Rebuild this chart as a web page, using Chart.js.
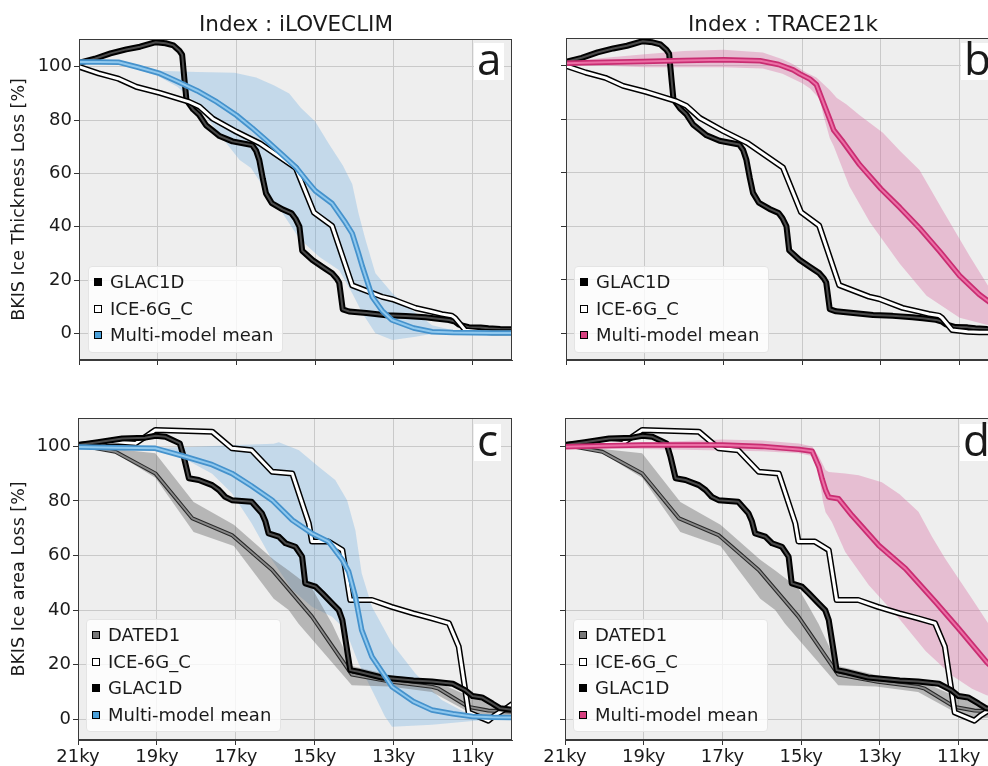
<!DOCTYPE html>
<html>
<head>
<meta charset="utf-8">
<script src="https://cdn.jsdelivr.net/npm/chart.js@4.4.1/dist/chart.umd.min.js"></script>
<style>
  html, body { margin: 0; padding: 0; background: #fff; }
  #fig { position: relative; width: 988px; height: 766px; overflow: hidden; font-family: "DejaVu Sans", sans-serif; color: #1a1a1a; }
  #fig canvas { position: absolute; }
  .title { position: absolute; top: 11px; font-size: 21.5px; line-height: 25px; transform: translateX(-50%); white-space: nowrap; }
  .letter { position: absolute; background: #fff; font-family: "Open Sans", sans-serif; font-size: 44px; height: 37px; line-height: 30px; padding: 0 3px; }
  .legend { position: absolute; background: rgba(255,255,255,0.8); border: 1px solid #e4e4e4; border-radius: 4px; font-size: 18px; box-sizing: border-box; padding-top: 2px; }
  .legend .row { height: 26.5px; line-height: 26.5px; white-space: nowrap; position: relative; padding-left: 21px; }
  .legend .sw { position: absolute; left: 5px; top: 9px; width: 6px; height: 6px; border: 1px solid #000; }
</style>
</head>
<body>
<div id="fig">
  <canvas id="pa" width="530" height="380" style="left:0;top:0"></canvas>
  <canvas id="pb" width="530" height="380" style="left:487px;top:0"></canvas>
  <canvas id="pc" width="530" height="386" style="left:0;top:380px"></canvas>
  <canvas id="pd" width="530" height="386" style="left:486px;top:380px"></canvas>
  <div class="title" style="left:296px">Index : iLOVECLIM</div>
  <div class="title" style="left:783px">Index : TRACE21k</div>
  <div class="letter" style="left:474px;top:43px">a</div>
  <div class="letter" style="left:961px;top:43px">b</div>
  <div class="letter" style="left:474px;top:424px">c</div>
  <div class="letter" style="left:960px;top:424px">d</div>
</div>
<script>
// axis ticks
const kyTicks = [21, 19, 17, 15, 13, 11];
const pctTicks = [0, 20, 40, 60, 80, 100];

// ---- ice thickness (panels a, b) ----
const glacThickKy  = [21, 20.6, 20.2, 19.8, 19.45, 19.05, 18.8, 18.6, 18.45, 18.38, 18.32, 18.27, 18.1, 17.95, 17.77, 17.6, 17.43, 17.1, 16.6, 16.5, 16.42, 16.33, 16.25, 16.1, 15.83, 15.6, 15.5, 15.4, 15.33, 15.07, 14.82, 14.57, 14.45, 14.39, 14.3, 14.14, 13.7, 13.2, 12.7, 12.2, 11.94, 11.6, 11.45, 11.35, 11.1, 10.8, 10.6, 10.3, 10];
const glacThickPct = [101.5, 103, 105, 106.5, 107.5, 109.2, 108.8, 108, 106, 104.5, 95, 87.5, 84, 82, 78, 76, 74, 72, 70.6, 68.5, 65, 58, 52.5, 48.8, 46.5, 45, 43, 40, 31, 27.5, 25, 22.5, 20.5, 19, 9, 8.2, 7.6, 6.8, 6.5, 6, 5.6, 5, 4.4, 3.3, 2.3, 2.2, 1.9, 1.6, 1.5];

const iceThickKy  = [21, 20.5, 20.0, 19.55, 18.95, 18.2, 17.94, 17.6, 17.0, 16.4, 15.49, 15.03, 14.57, 14.06, 13.3, 13.04, 12.45, 12.03, 11.78, 11.53, 11.45, 11.19, 10.8, 10.5, 10];
const iceThickPct = [100, 97.5, 95.5, 92.5, 90.2, 86.8, 85, 80.5, 75.6, 71.2, 62, 45.3, 40.3, 18, 13.7, 12.8, 9.5, 8.1, 7.2, 6.6, 5.8, 1.2, 0.6, 0.4, 0.4];

const ilcThickKy  = [21, 20.5, 20.0, 19.5, 18.95, 18.5, 18, 17.5, 17.0, 16.6, 16.25, 15.8, 15.49, 15.2, 15.0, 14.57, 14.23, 14.06, 13.9, 13.8, 13.55, 13.3, 13.05, 12.5, 12.03, 11.5, 11, 10.5, 10];
const ilcThickPct = [101.8, 101.8, 101.7, 99.8, 97.5, 94.5, 91, 86.8, 81.8, 77, 72.5, 66.5, 62.3, 57, 53.5, 48.7, 41.5, 37.5, 30, 25, 13.7, 8.5, 5, 2, 0.6, 0.3, 0.2, 0.1, 0.1];
const ilcThickHiKy  = [21, 20, 19.5, 19.0, 18.0, 17.05, 16.5, 16.04, 15.66, 15.36, 15.0, 14.65, 14.3, 14.06, 13.9, 13.72, 13.47, 13.04, 12.6, 12.03, 11.45, 11, 10];
const ilcThickHiPct = [102, 102.2, 100.5, 98.5, 98, 97.7, 96, 93, 90, 84.5, 79.5, 71, 63, 56, 45, 35, 22.5, 15, 9.4, 3, 1, 0.8, 0.5];
const ilcThickLoKy  = [21, 20, 19.5, 19.0, 18.5, 18.0, 17.47, 16.92, 16.63, 16.25, 15.83, 15.4, 14.9, 14.39, 14.06, 13.8, 13.47, 13.04, 12.45, 12.03, 11, 10];
const ilcThickLoPct = [101.5, 101.2, 99, 96.5, 92.5, 86, 75.3, 65, 62, 53.5, 45, 35.5, 28.7, 23.7, 15, 7.5, 0, -2.5, -1.3, -0.2, 0, 0];

const trcThickKy  = [21, 20, 19.04, 18, 17.0, 16.07, 15.6, 15.23, 15.06, 14.8, 14.64, 14.47, 14.3, 14.2, 13.96, 13.54, 13.0, 12.52, 12.0, 11.5, 11.0, 10.5, 10];
const trcThickPct = [101, 101.3, 101.6, 102, 102.3, 101.9, 100.5, 98.5, 97, 95, 93, 86.5, 80, 76, 71.5, 63, 54, 47, 39, 30.5, 21.5, 14.5, 9];
const trcThickHiKy  = [21, 20, 19, 18, 17, 16, 15.5, 15.23, 14.9, 14.64, 14.3, 14.12, 13.88, 13.54, 12.95, 12.5, 12.02, 11.43, 10.75, 10.29, 10];
const trcThickHiPct = [101.5, 103, 104.3, 105.5, 106, 105, 102.5, 100.6, 97.5, 95.6, 91, 88, 85.6, 81.5, 75, 68, 61, 46, 29, 18, 12];
const trcThickLoKy  = [21, 20, 19, 18, 17, 16, 15.5, 15.0, 14.8, 14.55, 14.47, 14.3, 14.2, 13.88, 13.8, 13.28, 12.52, 11.84, 11.0, 10.29, 10];
const trcThickLoPct = [100.5, 100, 99.5, 99.5, 99.5, 99, 97, 93.5, 91.5, 87.5, 82, 73, 70, 58, 55, 41.5, 26, 14, 5.8, 3.1, 2.5];

// ---- ice area (panels c, d) ----
const glacAreaKy  = [21, 20.5, 19.88, 19.3, 19.03, 18.78, 18.42, 18.32, 18.19, 17.94, 17.6, 17.43, 17.27, 17.1, 16.6, 16.34, 16.25, 16.17, 15.91, 15.74, 15.49, 15.32, 15.24, 14.98, 14.81, 14.56, 14.39, 14.3, 14.18, 14.1, 13.89, 13.3, 12.5, 12.03, 11.5, 11.19, 11.0, 10.76, 10.5, 10.3, 10];
const glacAreaPct = [100.5, 101.5, 102.9, 103.2, 103.9, 103.5, 101.1, 96.2, 88.3, 87.7, 85.8, 84, 81.5, 80.3, 79.7, 75.5, 72.5, 68.1, 66.9, 64.5, 63.2, 59.6, 49.8, 48.6, 46.2, 42.5, 40, 36.4, 25.4, 18, 17.4, 15.3, 14.2, 13.8, 13, 10.7, 8.5, 8, 5.8, 4, 3.5];

const iceAreaKy  = [21, 20.05, 19.54, 19.04, 17.6, 17.1, 16.6, 16.08, 15.57, 15.15, 15.07, 14.65, 14.3, 14.1, 13.55, 13.05, 12.5, 12.03, 11.6, 11.35, 11.1, 10.6, 10.43, 10.1, 10];
const iceAreaPct = [100.5, 101.7, 101.1, 106, 105.4, 99.3, 98.6, 90.7, 90.1, 71.8, 65.1, 65.1, 62, 43.7, 43.7, 41.2, 38.8, 37, 35.2, 26.6, 2.5, -0.5, 1.5, 4.5, 5.5];

const datedAreaKy  = [21, 20.05, 19.04, 18.1, 17.1, 16.08, 15.07, 14.06, 13.05, 12.03, 11.86, 11.1, 10.6, 10];
const datedAreaPct = [100.5, 98, 90.1, 73.6, 67.5, 54.7, 37.6, 16.4, 13.7, 11.9, 11.2, 4.5, 3.2, 2.8];
const datedHiKy  = [21, 20.05, 19.04, 18.07, 17.05, 16.04, 15.66, 15.07, 14.56, 14.06, 13.05, 12.03, 11.1, 10.43, 10];
const datedHiPct = [100.8, 99, 97.5, 79.6, 71.3, 58.5, 54.5, 48, 35, 19.5, 16, 14.5, 8.5, 5, 3.5];
const datedLoKy  = [21, 20.05, 19.04, 18.07, 17.05, 16.04, 15.66, 15.41, 14.06, 13.1, 12.03, 11.1, 10.6, 10];
const datedLoPct = [100.2, 97.5, 88.5, 68.6, 63.5, 44.2, 40, 35, 12.5, 12, 10, 2.7, 0, 1];

const ilcAreaKy  = [21, 20, 19.04, 18.27, 17.6, 17.1, 16.6, 16.08, 15.57, 15.07, 14.65, 14.3, 14.14, 13.97, 13.81, 13.55, 13.04, 12.5, 12.03, 11.5, 11.0, 10.5, 10];
const ilcAreaPct = [99.8, 99.5, 99.3, 96.2, 93.3, 90.1, 85.5, 80.3, 73, 68.1, 65.1, 58.4, 54.1, 44.9, 32.7, 22.9, 11.9, 6.5, 3.4, 2, 1, 0.7, 0.6];
const ilcAreaHiKy  = [21, 20, 19.04, 18.32, 17, 16.04, 15.91, 15.4, 14.9, 14.48, 14.18, 13.97, 13.81, 13.55, 13.04, 12.45, 11.78, 11.1, 10.5, 10];
const ilcAreaHiPct = [100, 99.8, 99.6, 99.7, 100.5, 101, 101.5, 98.6, 92.5, 87.7, 80.3, 69.3, 53.5, 41.2, 27.8, 16.8, 7.1, 1.8, 1, 0.8];
const ilcAreaLoKy  = [21, 20, 19.04, 18.3, 17.6, 17.1, 16.6, 16.08, 15.57, 15.07, 14.56, 14.22, 13.89, 13.55, 13.22, 13.04, 12.03, 11.0, 10];
const ilcAreaLoPct = [99.7, 99.2, 99, 95.5, 90, 82.8, 71.8, 58.4, 47.4, 41.2, 37.6, 32.7, 20.5, 10.7, 1, -2.7, -2, -0.6, 0.3];

const trcAreaKy  = [21, 20, 19.04, 18, 17.0, 16, 15.06, 14.72, 14.55, 14.47, 14.38, 14.3, 14.05, 13.71, 13.03, 12.35, 11.59, 11.0, 10.29, 10];
const trcAreaPct = [99.9, 100.2, 100.5, 100.5, 100.5, 100, 98.9, 98.2, 92.5, 88.1, 84, 81.4, 80.8, 74.7, 63.7, 55.2, 43, 33.2, 21, 17];
const trcAreaHiKy  = [21, 20, 19, 18, 17, 16, 15.06, 14.72, 14.55, 14.38, 14.3, 13.88, 13.54, 12.95, 12.5, 12.02, 11.68, 11.34, 10.66, 10.29, 10];
const trcAreaHiPct = [100.3, 101, 101.5, 102, 102.5, 102.2, 101.1, 100, 96.2, 91.3, 90.6, 90.1, 89.4, 86.9, 82.5, 76, 67, 58.8, 44.2, 36, 30];
const trcAreaLoKy  = [21, 20, 19, 18, 17, 16, 15.06, 14.72, 14.55, 14.45, 14.38, 14.22, 13.88, 13.28, 12.52, 11.84, 11.17, 10.66, 10.29, 10];
const trcAreaLoPct = [99.6, 99.3, 99, 98.8, 98.5, 98.2, 97.5, 96.5, 90, 80, 75.9, 72.3, 61.3, 49.1, 37, 25, 16, 11.2, 8.8, 8];

// colours
const BLUE = { outer: "#4592cc", inner: "#8fc8ee", band: "rgba(100,170,225,0.3)", swatch: "#4a9fd8" };
const PINK = { outer: "#c92d72", inner: "#ec6fa6", band: "rgba(215,105,160,0.36)", swatch: "#d6407f" };

function pts(xs, ys) {
  return xs.map((x, i) => ({ x: x, y: ys[i] }));
}

// a line drawn twice: wide dark edge, narrower coloured core
function outlined(xs, ys, outer, inner, wOut, wIn, order) {
  return [
    { data: pts(xs, ys), borderColor: inner, borderWidth: wIn, order: order },
    { data: pts(xs, ys), borderColor: outer, borderWidth: wOut, order: order + 0.5 }
  ];
}

function band(xHi, yHi, xLo, yLo, color, order) {
  return [
    { data: pts(xHi, yHi), borderColor: "transparent", borderWidth: 0, fill: false, order: order },
    { data: pts(xLo, yLo), borderColor: "transparent", borderWidth: 0, fill: "-1", backgroundColor: color, order: order }
  ];
}

const frame = {
  id: "frame",
  beforeDraw(chart) {
    const a = chart.chartArea, ctx = chart.ctx;
    ctx.save();
    ctx.fillStyle = "#eeeeee";
    ctx.fillRect(a.left, a.top, a.right - a.left, a.bottom - a.top);
    ctx.restore();
  },
  afterDraw(chart) {
    const a = chart.chartArea, ctx = chart.ctx;
    ctx.save();
    ctx.strokeStyle = "#3a3a3a";
    ctx.lineWidth = 1;
    ctx.strokeRect(Math.round(a.left) + 0.5, Math.round(a.top) + 0.5, Math.round(a.right - a.left) - 1, Math.round(a.bottom - a.top) - 1);
    ctx.restore();
  }
};

function makePanel(id, cfg) {
  const tickFont = { family: "DejaVu Sans", size: 18 };
  new Chart(document.getElementById(id), {
    type: "line",
    data: { datasets: cfg.datasets },
    options: {
      responsive: false,
      animation: false,
      events: [],
      layout: { padding: { top: cfg.top, right: 18, left: 0, bottom: 0 } },
      elements: {
        point: { radius: 0 },
        line: { tension: 0, borderJoinStyle: "round", borderCapStyle: "round", fill: false }
      },
      datasets: { line: { clip: 0 } },
      plugins: { legend: { display: false }, tooltip: { enabled: false } },
      scales: {
        x: {
          type: "linear", min: 10, max: 21, reverse: true,
          afterBuildTicks: s => { s.ticks = kyTicks.map(v => ({ value: v })); },
          afterFit: s => { s.height = cfg.xh; },
          grid: { color: "#c9c9c9", tickColor: "#333", tickLength: 5 },
          border: { color: "#3a3a3a" },
          ticks: { display: cfg.xLabels, autoSkip: false, maxRotation: 0, padding: 2, color: "#1a1a1a", font: tickFont, callback: v => v + "ky" }
        },
        y: {
          min: cfg.ymin, max: 110.4,
          afterBuildTicks: s => { s.ticks = pctTicks.map(v => ({ value: v })); },
          afterFit: s => { s.width = cfg.yw; },
          grid: { color: "#c9c9c9", tickColor: "#333", tickLength: 5 },
          border: { color: "#3a3a3a" },
          ticks: { display: cfg.yLabels, padding: 2, color: "#1a1a1a", font: tickFont },
          title: { display: !!cfg.yTitle, text: cfg.yTitle || "", color: "#1a1a1a", font: { family: "DejaVu Sans", size: 17.5 }, padding: { top: 9, bottom: 0 } }
        }
      }
    },
    plugins: [frame]
  });
}

function thicknessSets(mean) {
  return [].concat(
    band(mean.hiKy, mean.hiPct, mean.loKy, mean.loPct, mean.col.band, 20),
    outlined(glacThickKy, glacThickPct, "#000", "#4a4a4a", 6, 2, 6),
    outlined(iceThickKy, iceThickPct, "#000", "#fff", 6, 3, 4),
    outlined(mean.ky, mean.pct, mean.col.outer, mean.col.inner, 5.5, 2, 1)
  );
}

function areaSets(mean) {
  return [].concat(
    band(mean.hiKy, mean.hiPct, mean.loKy, mean.loPct, mean.col.band, 20),
    band(datedHiKy, datedHiPct, datedLoKy, datedLoPct, "rgba(105,105,105,0.42)", 18),
    outlined(datedAreaKy, datedAreaPct, "#2a2a2a", "#8a8a8a", 4, 1.8, 8),
    outlined(iceAreaKy, iceAreaPct, "#000", "#fff", 6, 3, 6),
    outlined(glacAreaKy, glacAreaPct, "#000", "#4a4a4a", 6, 2, 4),
    outlined(mean.ky, mean.pct, mean.col.outer, mean.col.inner, 5.5, 2, 1)
  );
}

makePanel("pa", {
  top: 39, xh: 20, yw: 79, ymin: -10, xLabels: false, yLabels: true, yTitle: "BKIS Ice Thickness Loss [%]",
  datasets: thicknessSets({ ky: ilcThickKy, pct: ilcThickPct, hiKy: ilcThickHiKy, hiPct: ilcThickHiPct, loKy: ilcThickLoKy, loPct: ilcThickLoPct, col: BLUE })
});
makePanel("pb", {
  top: 38, xh: 20, yw: 79, ymin: -10, xLabels: false, yLabels: false,
  datasets: thicknessSets({ ky: trcThickKy, pct: trcThickPct, hiKy: trcThickHiKy, hiPct: trcThickHiPct, loKy: trcThickLoKy, loPct: trcThickLoPct, col: PINK })
});
makePanel("pc", {
  top: 38, xh: 26, yw: 78, ymin: -7.6, xLabels: true, yLabels: true, yTitle: "BKIS Ice area Loss [%]",
  datasets: areaSets({ ky: ilcAreaKy, pct: ilcAreaPct, hiKy: ilcAreaHiKy, hiPct: ilcAreaHiPct, loKy: ilcAreaLoKy, loPct: ilcAreaLoPct, col: BLUE })
});
makePanel("pd", {
  top: 38, xh: 26, yw: 79, ymin: -7.6, xLabels: true, yLabels: false,
  datasets: areaSets({ ky: trcAreaKy, pct: trcAreaPct, hiKy: trcAreaHiKy, hiPct: trcAreaHiPct, loKy: trcAreaLoKy, loPct: trcAreaLoPct, col: PINK })
});

// legends (inside the axes, lower left)
function legend(left, top, items) {
  const box = document.createElement("div");
  box.className = "legend";
  box.style.left = left + "px";
  box.style.top = top + "px";
  box.style.width = "195px";
  box.style.height = (items.length * 26.5 + 7) + "px";
  items.forEach(it => {
    const row = document.createElement("div");
    row.className = "row";
    const sw = document.createElement("span");
    sw.className = "sw";
    sw.style.background = it[1];
    row.appendChild(sw);
    row.appendChild(document.createTextNode(it[0]));
    box.appendChild(row);
  });
  document.getElementById("fig").appendChild(box);
}
legend(88, 266, [["GLAC1D", "#000"], ["ICE-6G_C", "#fff"], ["Multi-model mean", BLUE.swatch]]);
legend(574, 266, [["GLAC1D", "#000"], ["ICE-6G_C", "#fff"], ["Multi-model mean", PINK.swatch]]);
legend(86, 619, [["DATED1", "#777"], ["ICE-6G_C", "#fff"], ["GLAC1D", "#000"], ["Multi-model mean", BLUE.swatch]]);
legend(573, 619, [["DATED1", "#777"], ["ICE-6G_C", "#fff"], ["GLAC1D", "#000"], ["Multi-model mean", PINK.swatch]]);
</script>
</body>
</html>
